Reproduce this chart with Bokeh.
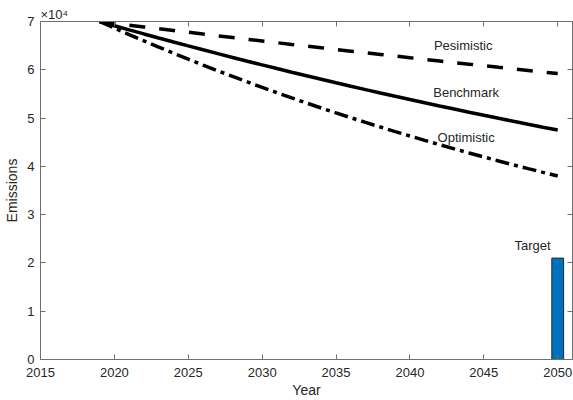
from bokeh.plotting import figure
from bokeh.models import LinearAxis, Range1d, FixedTicker, Label
from bokeh.embed import file_html
from bokeh.resources import INLINE

years = list(range(2019, 2051))
benchmark = [70000, 69130, 68272, 67424, 66587, 65760, 64943, 64137, 63340, 62553,
             61777, 61009, 60252, 59503, 58764, 58035, 57314, 56602, 55899, 55205,
             54520, 53843, 53174, 52514, 51862, 51218, 50582, 49953, 49333, 48720,
             48115, 47518]
optimistic = [70000, 68634, 67295, 65982, 64695, 63433, 62195, 60982, 59792, 58626,
              57482, 56360, 55261, 54183, 53126, 52089, 51073, 50077, 49100, 48142,
              47203, 46282, 45379, 44493, 43625, 42774, 41940, 41121, 40319, 39532,
              38761, 38005]
pesimistic = [70000, 69623, 69248, 68875, 68504, 68135, 67768, 67403, 67040, 66679,
              66320, 65963, 65608, 65255, 64904, 64554, 64207, 63861, 63517, 63175,
              62835, 62497, 62160, 61825, 61492, 61161, 60832, 60504, 60178, 59854,
              59532, 59211]
target_year = [2050]
target_value = [21000]

x_ticks = [2015, 2020, 2025, 2030, 2035, 2040, 2045, 2050]
y_ticks = [0, 10000, 20000, 30000, 40000, 50000, 60000, 70000]
y_tick_labels = ["0", "1", "2", "3", "4", "5", "6", "7"]
exponent_text = "×10⁴"

labels = ["Pesimistic", "Benchmark", "Optimistic", "Target"]
label_x = [2043.6, 2043.8, 2043.8, 2048.3]
label_y = [65000, 55300, 46000, 23600]

FONT = "Liberation Sans"
TXT = "#262626"
AX = "#707070"

W, H = 573, 400
BL, BR, BT, BB = 40, 1, 21, 39

p = figure(width=W, height=H, output_backend="svg", toolbar_location=None,
           x_range=Range1d(2015, 2051), y_range=Range1d(0, 70000),
           min_border_left=BL, min_border_right=BR, min_border_top=BT, min_border_bottom=BB,
           background_fill_color="white", border_fill_color="white")
p.outline_line_color = None
p.grid.visible = False

p.title.text = exponent_text
p.title.align = "left"
p.title.text_font = FONT
p.title.text_font_size = "13px"
p.title.text_font_style = "normal"
p.title.text_color = TXT
p.title.standoff = 0
p.title.offset = 0

p.line(years, pesimistic, line_color="black", line_width=3.5, line_dash="16 14")
p.line(years, benchmark, line_color="black", line_width=3.5)
p.line(years, optimistic, line_color="black", line_width=3.5, line_dash="14 5 4 5")
p.vbar(x=target_year, top=target_value, width=0.8, bottom=0,
       fill_color="#0072BD", line_color="#1a2a3a", line_width=1)

for t, x, y in zip(labels, label_x, label_y):
    p.add_layout(Label(x=x, y=y, text=t, text_align="center", text_baseline="middle",
                       text_font=FONT, text_font_size="13px", text_color=TXT))

def style(ax, ticks):
    ax.ticker = FixedTicker(ticks=ticks)
    ax.axis_line_color = AX
    ax.axis_line_width = 1
    ax.major_tick_line_color = AX
    ax.major_tick_in = 5
    ax.major_tick_out = 0
    ax.minor_tick_line_color = None
    ax.major_label_text_font = FONT
    ax.major_label_text_font_size = "13px"
    ax.major_label_text_color = TXT
    ax.axis_label_text_font = FONT
    ax.axis_label_text_font_size = "14px"
    ax.axis_label_text_font_style = "normal"
    ax.axis_label_text_color = TXT

xa = p.xaxis[0]
ya = p.yaxis[0]
style(xa, x_ticks)
style(ya, y_ticks)
xa.axis_label = "Year"
xa.major_label_standoff = 8
xa.axis_label_standoff = 2
ya.axis_label = "Emissions"
ya.major_label_overrides = {t: l for t, l in zip(y_ticks, y_tick_labels)}
ya.major_label_standoff = 6
ya.axis_label_standoff = 4

top = LinearAxis()
right = LinearAxis()
style(top, x_ticks)
style(right, y_ticks)
for ax, ticks in ((top, x_ticks), (right, y_ticks)):
    ax.major_label_overrides = {t: "" for t in ticks}
    ax.major_label_standoff = 0
p.add_layout(top, "above")
p.add_layout(right, "right")

open("out.html", "w").write(file_html(p, INLINE))
